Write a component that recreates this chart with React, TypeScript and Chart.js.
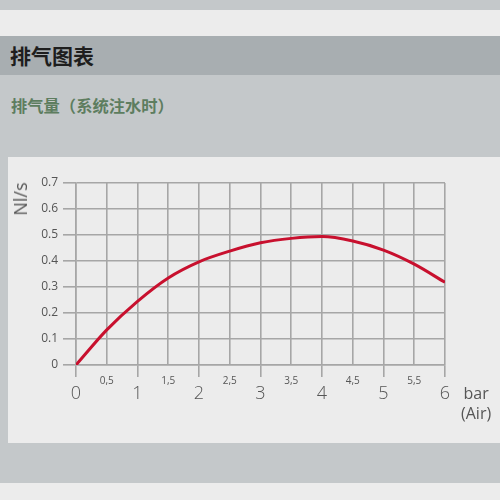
import React, { useEffect, useRef } from "react";
import { Chart, registerables } from "chart.js";

Chart.register(...registerables);

const pressureBar = [0, 0.5, 1, 1.5, 2, 2.5, 3, 3.5, 4, 4.5, 5, 5.5, 6];
const flowNls = [0, 0.135, 0.245, 0.335, 0.397, 0.438, 0.47, 0.487, 0.494, 0.477, 0.442, 0.388, 0.318];
const halfTickValues = [0.5, 1.5, 2.5, 3.5, 4.5, 5.5];
const halfTickLabels = ["0,5", "1,5", "2,5", "3,5", "4,5", "5,5"];

const pageTitle = "排气图表";
const chartTitle = "排气量（系统注水时）";
const yAxisTitle = "Nl/s";
const xUnitLine1 = "bar";
const xUnitLine2 = "(Air)";

const GRID = "#a6a6a6";
const TEXT = "#555555";
const FONT = "'Open Sans', 'DejaVu Sans', sans-serif";

export default function App() {
  const ref = useRef<HTMLCanvasElement | null>(null);

  useEffect(() => {
    if (!ref.current) return;
    const halfLabels = {
      id: "halfLabels",
      afterDraw(chart: any) {
        const { ctx, scales } = chart;
        const x = scales.x;
        const bottom = chart.chartArea.bottom;
        ctx.save();
        ctx.fillStyle = TEXT;
        ctx.font = `10px ${FONT}`;
        ctx.textAlign = "center";
        ctx.textBaseline = "middle";
        halfTickValues.forEach((v, i) => {
          ctx.fillText(halfTickLabels[i], x.getPixelForValue(v), bottom + 16);
        });
        ctx.restore();
      },
    };
    const chart = new Chart(ref.current, {
      type: "line",
      data: {
        datasets: [
          {
            data: pressureBar.map((p, i) => ({ x: p, y: flowNls[i] })),
            borderColor: "#c8102e",
            borderWidth: 3,
            pointRadius: 0,
            cubicInterpolationMode: "monotone",
            fill: false,
          },
        ],
      },
      options: {
        responsive: false,
        animation: false,
        layout: { padding: { left: 0, top: 26, right: 55, bottom: 0 } },
        plugins: { legend: { display: false }, tooltip: { enabled: false } },
        scales: {
          x: {
            type: "linear",
            min: 0,
            max: 6,
            afterFit: (s: any) => {
              s.height = 78;
            },
            grid: {
              color: GRID,
              lineWidth: 1.6,
              tickLength: 12,
              tickColor: (c: any) => (Number.isInteger(c.tick?.value) ? GRID : "rgba(0,0,0,0)"),
              tickWidth: 1.6,
            },
            border: { color: GRID, width: 1.6 },
            ticks: {
              stepSize: 0.5,
              autoSkip: false,
              maxRotation: 0,
              padding: 6,
              color: TEXT,
              font: { family: FONT, size: 18, weight: "300" },
              callback: (v: any) => (Number.isInteger(v) ? String(v) : ""),
            },
          },
          y: {
            min: 0,
            max: 0.7,
            afterFit: (s: any) => {
              s.width = 68;
            },
            grid: { color: GRID, lineWidth: 1.6, tickLength: 13, tickWidth: 1.6 },
            border: { color: GRID, width: 1.6 },
            ticks: {
              stepSize: 0.1,
              padding: 5,
              color: TEXT,
              font: { family: FONT, size: 12 },
              callback: (v: any) => (v === 0 ? "0" : Number(v).toFixed(1)),
            },
          },
        },
      },
      plugins: [halfLabels],
    } as any);
    return () => chart.destroy();
  }, []);

  const abs = (o: React.CSSProperties): React.CSSProperties => ({ position: "absolute", ...o });

  return (
    <div style={{ position: "fixed", left: 0, top: 0, width: 500, height: 500, background: "#c4c8ca", overflow: "hidden" }}>
      <div style={abs({ left: 0, top: 10, width: 500, height: 26, background: "#ececec" })} />
      <div style={abs({ left: 0, top: 36, width: 500, height: 39, background: "#a8aeb1" })} />
      <div
        style={abs({
          left: 10,
          top: 36,
          height: 39,
          lineHeight: "39px",
          fontFamily: "'Noto Sans CJK SC', sans-serif",
          fontWeight: 700,
          fontSize: 21,
          color: "#1e1e1e",
        })}
      >
        {pageTitle}
      </div>
      <div
        style={abs({
          left: 11,
          top: 93,
          lineHeight: "24px",
          fontFamily: "'Noto Sans CJK SC', sans-serif",
          fontWeight: 700,
          fontSize: 16.3,
          color: "#5d7d5f",
        })}
      >
        {chartTitle}
      </div>
      <div style={abs({ left: 8, top: 157, width: 492, height: 286, background: "#ececec" })} />
      <canvas ref={ref} width={492} height={286} style={abs({ left: 8, top: 157, width: 492, height: 286 })} />
      <div
        style={abs({
          left: 20,
          top: 199,
          transform: "translate(-50%, -50%) rotate(-90deg)",
          fontFamily: FONT,
          fontSize: 18,
          color: TEXT,
          whiteSpace: "nowrap",
          lineHeight: "18px",
        })}
      >
        {yAxisTitle}
      </div>
      <div style={abs({ left: 461, top: 383, fontFamily: FONT, fontSize: 16, color: TEXT, lineHeight: "20px", textAlign: "center" })}>
        {xUnitLine1}
        <br />
        {xUnitLine2}
      </div>
      <div style={abs({ left: 0, top: 483, width: 500, height: 17, background: "#ececec" })} />
    </div>
  );
}
